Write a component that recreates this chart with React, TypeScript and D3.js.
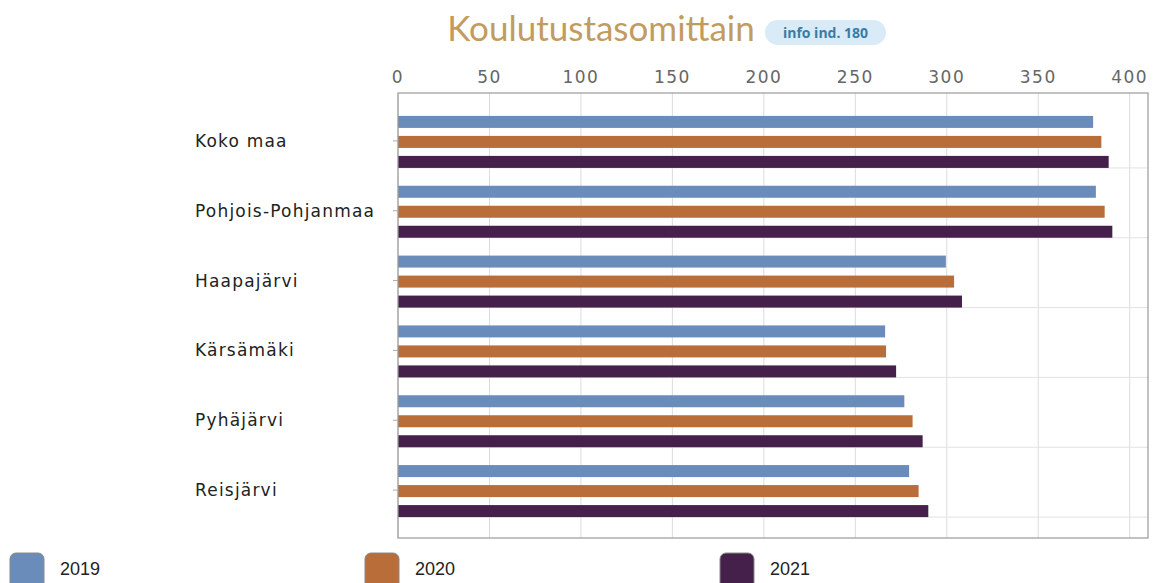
import { useEffect, useRef } from "react";
import * as d3 from "d3";

const categories = ["Koko maa", "Pohjois-Pohjanmaa", "Haapajärvi", "Kärsämäki", "Pyhäjärvi", "Reisjärvi"];
const years = ["2019", "2020", "2021"];
const values2019 = [380, 381.5, 299.5, 266.3, 276.8, 279.4];
const values2020 = [384.5, 386.3, 304, 266.8, 281.3, 284.6];
const values2021 = [388.5, 390.5, 308.3, 272.3, 286.8, 289.9];
const xTicks = [0, 50, 100, 150, 200, 250, 300, 350, 400];
const colors = ["#6a8cba", "#b96d38", "#45204b"];

const App = () => {
  const svgRef = useRef<SVGSVGElement | null>(null);

  useEffect(() => {
    const width = 1153;
    const height = 583;
    const plot = { left: 398, right: 1148, top: 93, bottom: 538 };

    const svg = d3.select(svgRef.current).attr("width", width).attr("height", height);
    svg.selectAll("*").remove();

    const series = [values2019, values2020, values2021];

    const x = d3.scaleLinear().domain([0, 410]).range([plot.left, plot.right]);
    const y0 = d3.scaleBand().domain(categories).range([plot.top + 13, plot.bottom - 13]);
    const y1 = d3.scaleBand().domain(years).range([-29, 31]).paddingInner(0.4).paddingOuter(0.2);
    const center = (c: string) => (y0(c) || 0) + y0.bandwidth() / 2;

    // Title
    svg
      .append("text")
      .attr("x", 601)
      .attr("y", 41)
      .attr("text-anchor", "middle")
      .attr("font-family", "Lato, 'Open Sans', sans-serif")
      .attr("font-size", 35)
      .attr("fill", "#c29c5e")
      .text("Koulutustasomittain");

    const badge = svg.append("g").attr("transform", "translate(765,20)");
    badge.append("rect").attr("width", 121).attr("height", 25).attr("rx", 12.5).attr("fill", "#d8ebf7");
    badge
      .append("text")
      .attr("x", 60.5)
      .attr("y", 18)
      .attr("text-anchor", "middle")
      .attr("font-family", "'Open Sans', Lato, sans-serif")
      .attr("font-weight", 700)
      .attr("font-size", 14)
      .attr("fill", "#3b7ca4")
      .text("info ind. 180");

    // Vertical grid
    svg
      .append("g")
      .selectAll("line")
      .data(xTicks)
      .join("line")
      .attr("x1", (d) => x(d))
      .attr("x2", (d) => x(d))
      .attr("y1", plot.top)
      .attr("y2", plot.bottom)
      .attr("stroke", "#dcdcdc");

    // Horizontal grid under each group
    svg
      .append("g")
      .selectAll("line")
      .data(categories)
      .join("line")
      .attr("x1", plot.left)
      .attr("x2", plot.right)
      .attr("y1", (d) => center(d) + 27)
      .attr("y2", (d) => center(d) + 27)
      .attr("stroke", "#e2e2e2");

    // Bars
    const groups = svg
      .append("g")
      .selectAll("g")
      .data(categories)
      .join("g")
      .attr("transform", (d) => `translate(0,${center(d)})`);

    groups
      .selectAll("rect")
      .data((_, i) => years.map((yr, k) => ({ yr, k, v: series[k][i] })))
      .join("rect")
      .attr("x", x(0))
      .attr("y", (d) => y1(d.yr) || 0)
      .attr("width", (d) => x(d.v) - x(0))
      .attr("height", y1.bandwidth())
      .attr("fill", (d) => colors[d.k]);

    // Frame
    svg
      .append("rect")
      .attr("x", plot.left)
      .attr("y", plot.top)
      .attr("width", plot.right - plot.left)
      .attr("height", plot.bottom - plot.top)
      .attr("fill", "none")
      .attr("stroke", "#9a9a9a")
      .attr("stroke-width", 1.2);

    // Top axis labels (slightly stretched like the source)
    svg
      .append("g")
      .selectAll("text")
      .data(xTicks)
      .join("text")
      .attr("x", (d) => x(d))
      .attr("y", 83)
      .attr("text-anchor", "middle")
      .style("font-family", "DejaVu Sans")
      .style("letter-spacing", "1.5px")
      .attr("font-size", 17)
      .attr("fill", "#666")
      .text((d) => d);

    // Category ticks and labels
    svg
      .append("g")
      .selectAll("line")
      .data(categories)
      .join("line")
      .attr("x1", plot.left - 5)
      .attr("x2", plot.left)
      .attr("y1", (d) => center(d))
      .attr("y2", (d) => center(d))
      .attr("stroke", "#aaa");

    svg
      .append("g")
      .selectAll("text")
      .data(categories)
      .join("text")
      .attr("x", 195)
      .attr("y", (d) => center(d) + 6)
      .style("font-family", "DejaVu Sans")
      .style("letter-spacing", "1.2px")
      .attr("font-size", 17)
      .attr("fill", "#222")
      .text((d) => d);

    // Legend
    const legend = svg
      .append("g")
      .selectAll("g")
      .data(years)
      .join("g")
      .attr("transform", (_, i) => `translate(${10 + i * 355},553)`);

    legend
      .append("rect")
      .attr("width", 34)
      .attr("height", 36)
      .attr("rx", 6)
      .attr("fill", (_, i) => colors[i])
      .attr("stroke", "#888")
      .attr("stroke-width", 1);

    legend
      .append("text")
      .attr("x", 50)
      .attr("y", 22)
      .style("font-family", "Liberation Sans Narrow, Liberation Sans, sans-serif")
      .attr("font-size", 18)
      .attr("fill", "#222")
      .text((d) => d);
  }, []);

  return (
    <div style={{ position: "absolute", left: 0, top: 0 }}>
      <svg ref={svgRef} style={{ display: "block" }} />
    </div>
  );
};

export default App;
